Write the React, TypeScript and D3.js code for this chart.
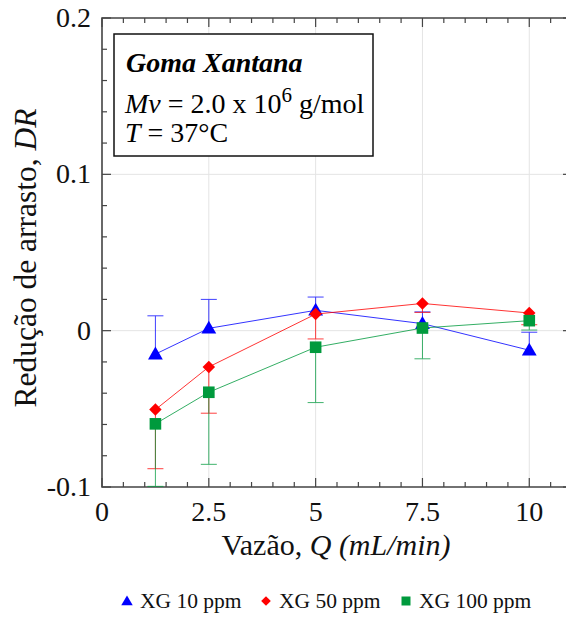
import React from "react";
import * as d3 from "d3";

// Vazão (mL/min)
const flowRates = [1.25, 2.5, 5, 7.5, 10];

// Redução de arrasto, DR
const xg10 = [-0.015, 0.0015, 0.013, 0.0045, -0.0125];
const xg50 = [-0.0505, -0.0232, 0.0106, 0.0174, 0.0113];
const xg100 = [-0.0596, -0.0394, -0.0106, 0.0017, 0.0064];

// one-sided error bars (magnitude)
const xg10Err = [0.0245, 0.0185, 0.0085, 0.0075, 0.0115];
const xg50Err = [0.0378, 0.0296, 0.0159, 0.0057, 0.0075];
const xg100Err = [0.04, 0.0461, 0.0354, 0.0197, 0.006];

const xTicks = [0, 2.5, 5, 7.5, 10];
const xTickLabels = ["0", "2.5", "5", "7.5", "10"];
const yTicks = [-0.1, 0, 0.1, 0.2];
const yTickLabels = ["-0.1", "0", "0.1", "0.2"];

const seriesNames = ["XG 10 ppm", "XG 50 ppm", "XG 100 ppm"];
const seriesColors = ["#0000ff", "#ff0000", "#009a3d"];
const seriesShapes = ["triangle", "diamond", "square"];

const W = 566;
const H = 619;
const margin = { left: 102, top: 18, bottom: 487 };
const FONT = "Liberation Serif, DejaVu Serif, Times New Roman, serif";

const x = d3.scaleLinear().domain([0, 11]).range([margin.left, 572]);
const y = d3.scaleLinear().domain([-0.1, 0.2]).range([margin.bottom, margin.top]);

const symbolFor = (shape: string, size: number) => {
  if (shape === "triangle") return d3.symbol().type(d3.symbolTriangle).size(size)()!;
  return d3.symbol().type(d3.symbolSquare).size(size)()!;
};

const Marker = ({ shape, color, cx, cy, scale = 1 }: any) => {
  const size = shape === "triangle" ? 95 * scale : shape === "diamond" ? 78 * scale : 135 * scale;
  const rot = shape === "diamond" ? 45 : 0;
  const dy = shape === "triangle" ? 1 : 0;
  return (
    <path
      d={symbolFor(shape, size)}
      transform={`translate(${cx},${cy + dy}) rotate(${rot})`}
      fill={color}
    />
  );
};

const App = () => {
  const series = [
    { values: xg10, err: xg10Err, dir: 1 },
    { values: xg50, err: xg50Err, dir: -1 },
    { values: xg100, err: xg100Err, dir: -1 },
  ];

  const line = d3
    .line<number>()
    .x((_, i) => x(flowRates[i]))
    .y((d) => y(d));

  const xMinor = d3.range(0, 11.01, 0.5);
  const yMinor = d3.range(-0.1, 0.2001, 0.02);
  const isMajorX = (v: number) => Math.abs(v / 2.5 - Math.round(v / 2.5)) < 1e-6;
  const isMajorY = (v: number) => Math.abs(v / 0.1 - Math.round(v / 0.1)) < 1e-6;
  const axisColor = "#444";
  const txt = { fontFamily: FONT };

  return (
    <svg
      width={W}
      height={H}
      style={{ position: "absolute", left: 0, top: 0, background: "#fff", fontFamily: FONT }}
    >
      <rect width={W} height={H} fill="#fff" />

      {/* grid */}
      {xTicks.slice(1).map((t) => (
        <line key={`gx${t}`} x1={x(t)} x2={x(t)} y1={margin.top} y2={margin.bottom} stroke="#e4e4e4" strokeWidth={1} />
      ))}
      {yTicks.slice(1, 3).map((t) => (
        <line key={`gy${t}`} x1={margin.left} x2={W} y1={y(t)} y2={y(t)} stroke="#e4e4e4" strokeWidth={1} />
      ))}

      {/* minor/major ticks */}
      {xMinor.map((t) => {
        const len = isMajorX(t) ? 9 : 5;
        return (
          <g key={`tx${t}`} stroke={axisColor} strokeWidth={1.2}>
            <line x1={x(t)} x2={x(t)} y1={margin.bottom} y2={margin.bottom - len} />
            <line x1={x(t)} x2={x(t)} y1={margin.top} y2={margin.top + len} />
          </g>
        );
      })}
      {yMinor.map((t) => {
        const len = isMajorY(t) ? 9 : 5;
        return (
          <g key={`ty${t.toFixed(2)}`} stroke={axisColor} strokeWidth={1.2}>
            <line x1={margin.left} x2={margin.left + len} y1={y(t)} y2={y(t)} />
            <line x1={x(11)} x2={x(11) - len} y1={y(t)} y2={y(t)} />
          </g>
        );
      })}

      {/* frame */}
      <path
        d={`M${x(11)},${margin.top}H${margin.left}V${margin.bottom}H${x(11)}`}
        fill="none"
        stroke={axisColor}
        strokeWidth={1.6}
      />

      {/* tick labels */}
      {xTicks.map((t, i) => (
        <text key={`lx${t}`} x={x(t)} y={521} textAnchor="middle" fontSize={28} fill="#111" style={txt}>
          {xTickLabels[i]}
        </text>
      ))}
      {yTicks.map((t, i) => (
        <text key={`ly${t}`} x={91} y={y(t) + 9} textAnchor="end" fontSize={28} fill="#111" style={txt}>
          {yTickLabels[i]}
        </text>
      ))}

      {/* axis titles */}
      <text x={336} y={555} textAnchor="middle" fontSize={30} fill="#111" style={txt}>
        Vazão, <tspan fontStyle="italic">Q (mL/min)</tspan>
      </text>
      <text
        x={36}
        y={258}
        textAnchor="middle"
        fontSize={31.5}
        fill="#111"
        style={txt}
        transform="rotate(-90, 36, 258)"
      >
        Redução de arrasto, <tspan fontStyle="italic">DR</tspan>
      </text>

      {/* annotation box */}
      <rect x={114} y={34} width={259} height={122} fill="#fff" stroke="#111" strokeWidth={1.5} />
      <text x={126} y={72} fontSize={28} fontWeight="bold" fontStyle="italic" fill="#000" style={txt}>
        Goma Xantana
      </text>
      <text x={125} y={113} fontSize={28} fill="#000" style={txt}>
        <tspan fontStyle="italic">Mv</tspan> = 2.0 x 10
        <tspan fontSize={21} dy={-11}>6</tspan>
        <tspan dy={11}> g/mol</tspan>
      </text>
      <text x={125} y={142} fontSize={28} fill="#000" style={txt}>
        <tspan fontStyle="italic">T</tspan> = 37°C
      </text>

      {/* series */}
      {series.map((s, si) => (
        <g key={`s${si}`}>
          {s.values.map((v, i) => {
            const end = v + s.dir * s.err[i];
            return (
              <g key={`e${i}`} stroke={seriesColors[si]} strokeWidth={1} opacity={0.75}>
                <line x1={x(flowRates[i])} x2={x(flowRates[i])} y1={y(v)} y2={y(end)} />
                <line x1={x(flowRates[i]) - 8} x2={x(flowRates[i]) + 8} y1={y(end)} y2={y(end)} />
              </g>
            );
          })}
          <path d={line(s.values)!} fill="none" stroke={seriesColors[si]} strokeWidth={1} opacity={0.8} />
          {s.values.map((v, i) => (
            <Marker
              key={`m${i}`}
              shape={seriesShapes[si]}
              color={seriesColors[si]}
              cx={x(flowRates[i])}
              cy={y(v)}
            />
          ))}
        </g>
      ))}

      {/* legend */}
      {[127, 266, 406].map((lx, i) => (
        <g key={`lg${i}`}>
          <Marker shape={seriesShapes[i]} color={seriesColors[i]} cx={lx} cy={601} scale={0.6} />
          <text x={lx + 13} y={608} fontSize={21.5} fill="#111" style={txt}>
            {seriesNames[i]}
          </text>
        </g>
      ))}
    </svg>
  );
};

export default App;
